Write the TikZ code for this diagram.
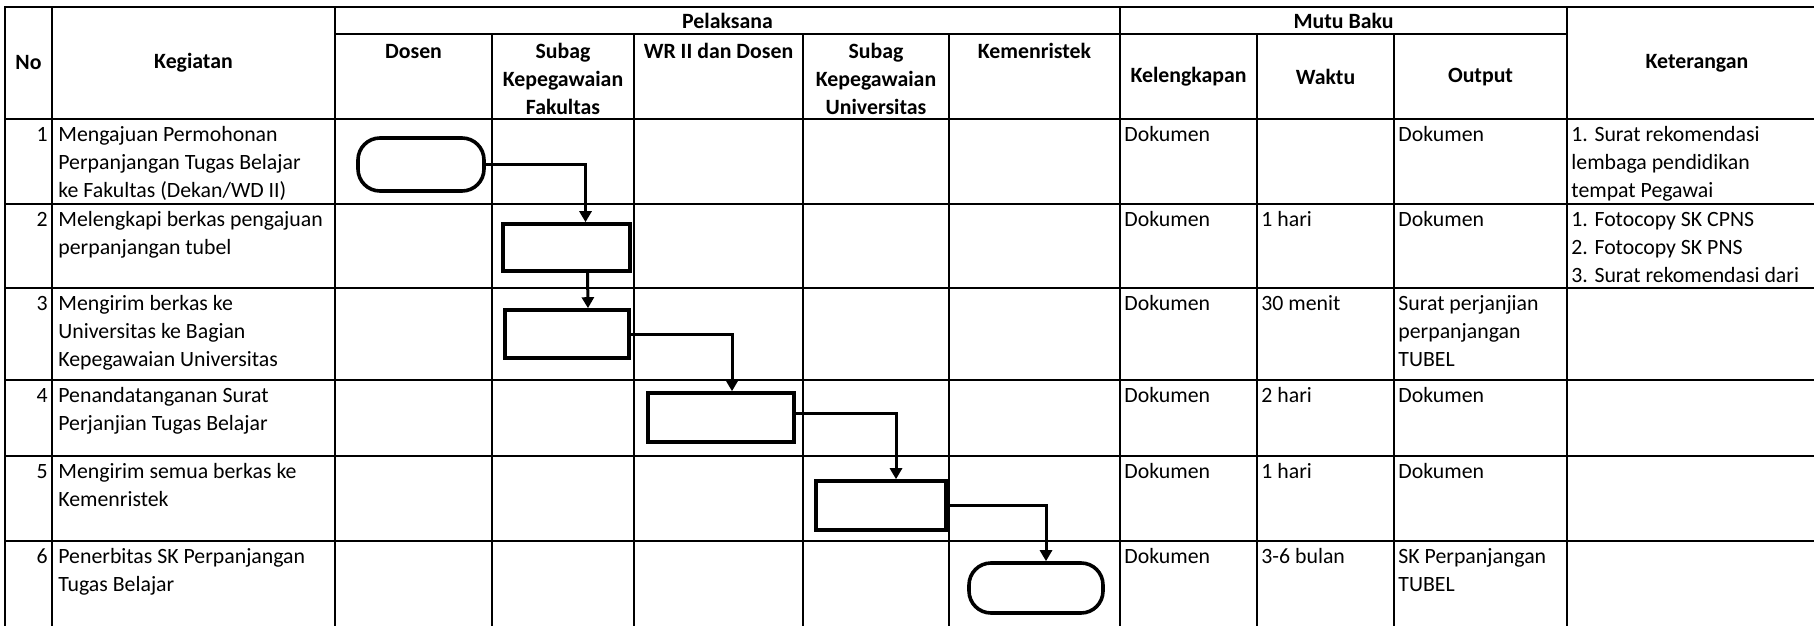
\documentclass[tikz,border=0pt]{standalone}
\usepackage{fontspec}
\setmainfont{Carlito}
\usetikzlibrary{arrows.meta}
\newcommand{\fs}{\rule{0pt}{10pt}}
\newcommand{\hs}{\rule{0pt}{11pt}}
\begin{document}
\begin{tikzpicture}[x=0.5pt,y=-0.5pt,
  grid/.style={line width=1.3pt, line cap=rect},
  hdr/.style={font=\bfseries\fontsize{10.9}{14}\selectfont, inner sep=0pt, align=center},
  hdrtop/.style={hdr, anchor=north},
  cell/.style={font=\fontsize{10.9}{14}\selectfont, inner sep=0pt, align=left, anchor=north west},
  numcell/.style={font=\fontsize{10.9}{14}\selectfont, inner sep=0pt, anchor=north east},
  procbox/.style={draw, line width=1.8pt, inner sep=0pt},
  termbox/.style={draw, line width=1.8pt, inner sep=0pt, rounded corners=11pt},
  arr/.style={line width=1.5pt, -{Triangle[length=5.5pt,width=6pt]}}
]
\useasboundingbox (0,0) rectangle (1814,626);
\fill[white] (0,0) rectangle (1814,626);

% grid: horizontal lines
\draw[grid] (5,7) -- (1814,7);
\draw[grid] (335,34) -- (1567,34);
\foreach \yy in {119,204,288,380,456,541} \draw[grid] (5,\yy) -- (1814,\yy);
% grid: vertical lines
\foreach \xx in {5,52,335,1120,1567} \draw[grid] (\xx,7) -- (\xx,626);
\foreach \xx in {492,634,803,949,1257,1394} \draw[grid] (\xx,34) -- (\xx,626);

% header
\node[hdr] (hNo) at (28.5,63) {No};
\node[hdr] (hKeg) at (193.5,63) {Kegiatan};
\node[hdr] (hPel) at (727.5,21) {Pelaksana};
\node[hdr] (hMutu) at (1343.5,21) {Mutu Baku};
\node[hdr] (hKet) at (1697,63) {Keterangan};
\node[hdrtop] (hDos) at (413.5,36) {\hs Dosen};
\node[hdrtop] (hSF) at (563,36) {\hs Subag\\Kepegawaian\\Fakultas};
\node[hdrtop] (hWR) at (718.5,36) {\hs WR II dan Dosen};
\node[hdrtop] (hSU) at (876,36) {\hs Subag\\Kepegawaian\\Universitas};
\node[hdrtop] (hKem) at (1034.5,36) {\hs Kemenristek};
\node[hdr] (hKel) at (1188.5,77) {Kelengkapan};
\node[hdr] (hWak) at (1325.5,77) {Waktu};
\node[hdr] (hOut) at (1480.5,77) {Output};

% row 1
\node[numcell] (n1) at (48,121) {\fs 1};
\node[cell] (k1) at (58,121) {\fs Mengajuan Permohonan\\Perpanjangan Tugas Belajar\\ke Fakultas (Dekan/WD II)};
\node[cell] (l1) at (1124,121) {\fs Dokumen};
\node[cell] (o1) at (1398,121) {\fs Dokumen};
\node[cell] (e1) at (1571,121) {\fs 1. Surat rekomendasi\\lembaga pendidikan\\tempat Pegawai};
% row 2
\node[numcell] (n2) at (48,206) {\fs 2};
\node[cell] (k2) at (58,206) {\fs Melengkapi berkas pengajuan\\perpanjangan tubel};
\node[cell] (l2) at (1124,206) {\fs Dokumen};
\node[cell] (w2) at (1261,206) {\fs 1 hari};
\node[cell] (o2) at (1398,206) {\fs Dokumen};
\node[cell] (e2) at (1571,206) {\fs 1. Fotocopy SK CPNS\\2. Fotocopy SK PNS\\3. Surat rekomendasi dari};
% row 3
\node[numcell] (n3) at (48,290) {\fs 3};
\node[cell] (k3) at (58,290) {\fs Mengirim berkas ke\\Universitas ke Bagian\\Kepegawaian Universitas};
\node[cell] (l3) at (1124,290) {\fs Dokumen};
\node[cell] (w3) at (1261,290) {\fs 30 menit};
\node[cell] (o3) at (1398,290) {\fs Surat perjanjian\\perpanjangan\\TUBEL};
% row 4
\node[numcell] (n4) at (48,382) {\fs 4};
\node[cell] (k4) at (58,382) {\fs Penandatanganan Surat\\Perjanjian Tugas Belajar};
\node[cell] (l4) at (1124,382) {\fs Dokumen};
\node[cell] (w4) at (1261,382) {\fs 2 hari};
\node[cell] (o4) at (1398,382) {\fs Dokumen};
% row 5
\node[numcell] (n5) at (48,458) {\fs 5};
\node[cell] (k5) at (58,458) {\fs Mengirim semua berkas ke\\Kemenristek};
\node[cell] (l5) at (1124,458) {\fs Dokumen};
\node[cell] (w5) at (1261,458) {\fs 1 hari};
\node[cell] (o5) at (1398,458) {\fs Dokumen};
% row 6
\node[numcell] (n6) at (48,543) {\fs 6};
\node[cell] (k6) at (58,543) {\fs Penerbitas SK Perpanjangan\\Tugas Belajar};
\node[cell] (l6) at (1124,543) {\fs Dokumen};
\node[cell] (w6) at (1261,543) {\fs 3-6 bulan};
\node[cell] (o6) at (1398,543) {\fs SK Perpanjangan\\TUBEL};

% flowchart shapes
\node[termbox, minimum width=63pt, minimum height=26.5pt] (t1) at (421,164.5) {};
\node[procbox, minimum width=63.5pt, minimum height=23.5pt] (b2) at (566.5,247.5) {};
\node[procbox, minimum width=62pt, minimum height=24pt] (b3) at (567,334) {};
\node[procbox, minimum width=73pt, minimum height=24.5pt] (b4) at (721,417.5) {};
\node[procbox, minimum width=65pt, minimum height=24.5pt] (b5) at (881,505.5) {};
\node[termbox, minimum width=67pt, minimum height=25pt] (t2) at (1036,588) {};

% connectors
\draw[arr] (t1.east) -| ([xshift=9.5pt]b2.north);
\draw[arr] ([xshift=10.5pt]b2.south) -- ([xshift=10.5pt]b3.north);
\draw[arr] (b3.east) -| ([xshift=5.5pt]b4.north);
\draw[arr] ([yshift=2pt]b4.east) -| ([xshift=7.5pt]b5.north);
\draw[arr] (b5.east) -| ([xshift=5pt]t2.north);
\end{tikzpicture}
\end{document}
